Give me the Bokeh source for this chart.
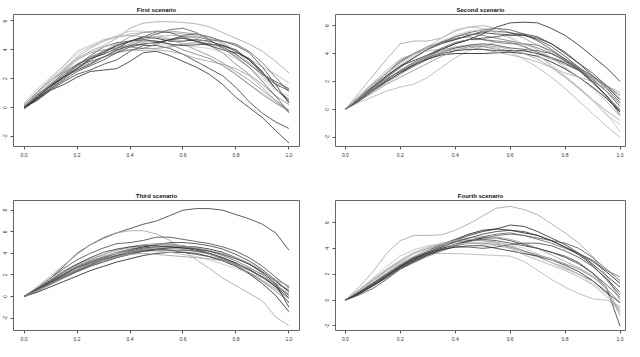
from bokeh.plotting import figure
from bokeh.layouts import column, row
from bokeh.models import Range1d, FixedTicker, PrintfTickFormatter, ColumnDataSource
from bokeh.embed import file_html
from bokeh.resources import INLINE

x_grid = [0.0, 0.05, 0.1, 0.15, 0.2, 0.25, 0.3, 0.35, 0.4, 0.45, 0.5,
          0.55, 0.6, 0.65, 0.7, 0.75, 0.8, 0.85, 0.9, 0.95, 1.0]
x_ticks = [0.0, 0.2, 0.4, 0.6, 0.8, 1.0]
y_ticks_a = [-2, 0, 2, 4, 6]
y_ticks_b = [-2, 0, 2, 4, 6, 8]
titles = ["First scenario", "Second scenario", "Third scenario", "Fourth scenario"]

first_curves = [
    [0.1, 0.8, 1.7, 2.6, 3.4, 3.9, 4.3, 4.8, 5.5, 5.85, 5.95, 5.95, 5.9, 5.8, 5.6, 5.2, 4.8, 4.4, 3.9, 3.2, 2.4],
    [0.2, 1.1, 2.0, 2.9, 3.9, 4.3, 4.7, 4.9, 5.1, 5.2, 5.3, 5.2, 5.1, 5.0, 4.8, 4.4, 3.9, 3.4, 2.8, 2.3, 1.7],
    [0.0, 0.5, 1.2, 1.6, 2.1, 2.5, 2.6, 2.7, 3.2, 3.8, 3.9, 3.6, 3.2, 2.8, 2.3, 1.6, 0.7, 0.0, -0.7, -1.6, -2.45],
    [-0.1, 0.6, 1.2, 1.8, 2.3, 2.6, 3.0, 3.3, 3.9, 4.3, 4.3, 4.1, 3.7, 3.2, 2.7, 2.2, 1.4, 0.4, -0.4, -1.0, -1.45],
    [0.0, 0.9, 1.5, 2.1, 2.9, 3.6, 4.2, 4.5, 4.6, 4.9, 5.25, 5.2, 4.9, 4.6, 4.4, 4.3, 3.9, 3.3, 2.4, 1.3, 0.4],
    [0.2, 1.1, 1.9, 2.5, 3.0, 3.5, 3.9, 4.2, 4.2, 4.1, 4.1, 4.2, 4.4, 4.5, 4.3, 3.8, 3.0, 2.3, 1.6, 0.8, 0.2],
    [0.0, 0.8, 1.5, 2.2, 3.0, 3.4, 3.7, 4.1, 4.6, 4.9, 4.8, 4.6, 4.6, 4.7, 4.6, 4.3, 4.0, 3.3, 2.4, 1.6, 1.2],
    [0.1, 0.7, 1.5, 2.5, 3.3, 3.8, 4.0, 4.1, 4.4, 4.7, 4.9, 4.7, 4.4, 4.0, 3.6, 3.1, 2.5, 1.9, 1.2, 0.5, -0.2],
    [0.0, 0.6, 1.3, 1.9, 2.5, 2.9, 3.3, 3.8, 4.2, 4.4, 4.5, 4.7, 5.0, 5.1, 4.9, 4.6, 4.3, 3.8, 2.8, 1.6, 0.3],
    [0.3, 1.3, 2.1, 2.9, 3.7, 4.2, 4.6, 5.0, 5.3, 5.3, 5.1, 4.8, 4.4, 4.0, 3.6, 3.1, 2.3, 1.6, 1.0, 0.4, -0.3],
    [0.0, 0.7, 1.6, 2.4, 2.9, 3.2, 3.5, 3.8, 4.0, 4.1, 4.4, 4.7, 4.9, 4.9, 4.7, 4.6, 4.4, 3.9, 3.1, 2.1, 1.1],
    [0.1, 0.9, 1.6, 2.2, 2.8, 3.4, 3.8, 4.0, 4.0, 3.95, 4.0, 3.9, 3.7, 3.4, 3.2, 3.0, 2.7, 2.2, 1.4, 0.5, -0.35],
    [0.0, 0.6, 1.4, 2.1, 2.6, 3.0, 3.5, 4.0, 4.3, 4.4, 4.5, 4.7, 4.8, 4.6, 4.3, 4.0, 3.8, 3.4, 2.5, 1.3, 0.5],
    [0.2, 1.0, 1.9, 2.7, 3.4, 3.9, 4.2, 4.4, 4.5, 4.5, 4.4, 4.3, 4.3, 4.2, 4.1, 3.8, 3.4, 2.8, 2.0, 1.2, 0.8],
    [0.0, 0.7, 1.3, 2.0, 2.7, 3.4, 3.9, 4.3, 4.6, 4.8, 5.1, 5.4, 5.5, 5.2, 4.7, 4.1, 3.5, 2.8, 1.8, 0.8, -0.35],
    [0.1, 0.9, 1.6, 2.2, 2.7, 3.1, 3.5, 3.9, 4.3, 4.6, 4.6, 4.4, 4.0, 3.7, 3.4, 2.9, 2.3, 1.6, 0.9, 0.3, -0.2],
    [0.0, 0.7, 1.5, 2.1, 2.7, 3.3, 3.8, 4.3, 4.6, 4.7, 4.6, 4.4, 4.3, 4.35, 4.4, 4.2, 3.7, 3.0, 2.3, 1.8, 1.3],
    [0.2, 1.0, 1.8, 2.7, 3.5, 4.1, 4.6, 4.9, 5.0, 4.9, 4.9, 5.0, 5.0, 4.8, 4.5, 4.1, 3.6, 3.0, 2.4, 1.7, 1.1],
    [0.1, 0.8, 1.6, 2.3, 3.0, 3.5, 3.9, 4.4, 4.9, 5.2, 5.3, 5.3, 5.2, 5.1, 4.9, 4.5, 3.9, 3.1, 2.2, 1.3, 0.6],
]
first_colors = ["#a0a0a0", "#b0b0b0", "#2a2a2a", "#3a3a3a", "#4a4a4a", "#808080", "#151515", "#8c8c8c", "#444444",
                "#bcbcbc", "#666666", "#9c9c9c", "#2a2a2a", "#c4c4c4", "#555555", "#7a7a7a", "#333333", "#aaaaaa",
                "#909090"]

second_curves = [
    [0, 0.7, 1.4, 2.1, 2.8, 3.3, 3.8, 4.3, 4.7, 5.0, 5.4, 5.9, 6.2, 6.25, 6.2, 5.8, 5.3, 4.6, 3.8, 3.0, 2.0],
    [0, 1.2, 2.4, 3.6, 4.7, 4.9, 4.9, 5.1, 5.6, 5.9, 6.0, 5.8, 5.5, 5.1, 4.6, 4.1, 3.6, 3.0, 2.3, 1.7, 1.2],
    [0, 0.5, 0.9, 1.3, 1.6, 1.8, 2.3, 3.0, 3.7, 4.2, 4.5, 4.4, 4.1, 3.6, 3.0, 2.3, 1.5, 0.6, -0.3, -1.2, -2.0],
    [0, 0.9, 1.8, 2.6, 3.4, 4.0, 4.5, 4.8, 5.0, 5.3, 5.6, 5.6, 5.5, 5.3, 5.0, 4.5, 3.8, 3.0, 2.2, 1.3, 0.2],
    [0, 0.8, 1.5, 2.2, 2.7, 3.2, 3.6, 3.9, 4.0, 4.0, 4.0, 4.05, 4.1, 4.0, 3.8, 3.4, 2.9, 2.3, 1.6, 0.8, -0.2],
    [0, 0.8, 1.7, 2.6, 3.5, 4.0, 4.4, 4.8, 5.1, 5.2, 5.0, 4.8, 4.7, 4.7, 4.6, 4.2, 3.6, 3.0, 2.4, 1.7, 1.0],
    [0, 0.9, 1.8, 2.6, 3.3, 3.9, 4.5, 5.1, 5.7, 5.9, 5.8, 5.6, 5.2, 4.6, 3.9, 3.1, 2.3, 1.5, 0.6, -0.4, -1.1],
    [0, 0.8, 1.6, 2.4, 3.1, 3.7, 4.3, 4.7, 5.0, 5.3, 5.5, 5.4, 5.3, 5.3, 5.1, 4.7, 4.1, 3.3, 2.4, 1.5, 0.5],
    [0, 0.6, 1.2, 1.8, 2.3, 2.8, 3.3, 3.8, 4.2, 4.5, 4.5, 4.3, 4.2, 4.2, 4.0, 3.6, 3.2, 2.8, 2.3, 1.6, 0.7],
    [0, 0.7, 1.5, 2.3, 3.0, 3.7, 4.3, 4.8, 5.2, 5.5, 5.7, 5.8, 5.7, 5.4, 4.9, 4.3, 3.6, 2.9, 2.0, 1.0, -0.4],
    [0, 1.0, 1.9, 2.8, 3.6, 4.0, 4.2, 4.3, 4.4, 4.5, 4.3, 4.1, 3.9, 3.7, 3.4, 3.0, 2.6, 2.3, 2.0, 1.5, 1.0],
    [0, 0.6, 1.3, 2.0, 2.6, 3.1, 3.6, 4.0, 4.2, 4.3, 4.3, 4.2, 4.2, 4.2, 4.0, 3.7, 3.3, 2.8, 2.0, 1.0, -0.2],
    [0, 0.7, 1.3, 1.9, 2.5, 3.1, 3.7, 4.2, 4.5, 4.6, 4.6, 4.5, 4.3, 4.0, 3.6, 3.0, 2.3, 1.5, 0.7, -0.1, -0.8],
    [0, 0.8, 1.6, 2.3, 3.0, 3.7, 4.3, 4.8, 5.2, 5.4, 5.3, 5.1, 4.9, 4.7, 4.4, 4.0, 3.5, 2.9, 2.1, 1.3, 0.4],
    [0, 0.7, 1.4, 2.0, 2.6, 3.2, 3.7, 4.1, 4.4, 4.6, 4.7, 4.6, 4.4, 4.3, 4.2, 4.0, 3.5, 2.8, 1.9, 1.0, -0.1],
    [0, 0.9, 1.7, 2.5, 3.2, 3.8, 4.4, 4.9, 5.3, 5.6, 5.7, 5.5, 5.1, 4.5, 3.9, 3.2, 2.4, 1.6, 0.7, -0.3, -1.6],
    [0, 0.8, 1.6, 2.4, 3.1, 3.5, 3.9, 4.3, 4.7, 5.0, 5.1, 5.2, 5.4, 5.4, 5.2, 4.7, 4.0, 3.3, 2.6, 1.7, 0.7],
    [0, 0.7, 1.4, 2.1, 2.8, 3.4, 3.9, 4.4, 4.8, 5.0, 5.0, 4.9, 4.8, 4.5, 4.1, 3.7, 3.4, 2.9, 2.0, 0.9, 0.0],
    [0, 0.8, 1.5, 2.2, 2.8, 3.3, 3.8, 4.1, 4.3, 4.4, 4.6, 4.8, 4.9, 4.7, 4.3, 3.7, 3.0, 2.3, 1.5, 0.6, -0.5],
]
second_colors = ["#222222", "#a0a0a0", "#b0b0b0", "#444444", "#151515", "#6a6a6a", "#bcbcbc", "#333333", "#8c8c8c",
                 "#555555", "#aaaaaa", "#2a2a2a", "#9c9c9c", "#777777", "#444444", "#c0c0c0", "#333333", "#666666",
                 "#a8a8a8"]

third_curves = [
    [0, 0.8, 1.7, 2.8, 4.0, 4.8, 5.4, 5.9, 6.3, 6.7, 7.0, 7.5, 8.0, 8.15, 8.15, 8.0, 7.6, 7.2, 6.7, 5.9, 4.3],
    [0, 0.9, 1.9, 2.9, 3.9, 4.8, 5.5, 5.9, 6.1, 6.1, 5.8, 5.2, 4.3, 3.4, 2.6, 1.7, 1.0, 0.3, -0.4, -1.9, -2.7],
    [0, 0.6, 1.2, 1.8, 2.4, 2.9, 3.4, 3.8, 4.2, 4.5, 4.6, 4.6, 4.5, 4.3, 4.0, 3.6, 3.1, 2.5, 1.8, 0.9, -0.1],
    [0, 0.8, 1.7, 2.6, 3.4, 4.0, 4.5, 4.9, 5.0, 5.2, 5.5, 5.5, 5.3, 5.1, 4.9, 4.6, 4.2, 3.6, 2.8, 1.8, 0.8],
    [0, 0.7, 1.4, 2.0, 2.6, 3.1, 3.5, 3.9, 4.2, 4.4, 4.5, 4.5, 4.4, 4.2, 3.9, 3.5, 3.0, 2.4, 1.8, 1.2, 0.6],
    [0, 0.4, 0.9, 1.4, 1.9, 2.4, 2.8, 3.2, 3.5, 3.8, 4.0, 4.1, 4.1, 4.0, 3.7, 3.3, 2.8, 2.1, 1.2, 0.1, -1.4],
    [0, 0.7, 1.4, 2.1, 2.8, 3.3, 3.7, 4.1, 4.4, 4.6, 4.8, 4.8, 4.7, 4.5, 4.2, 3.8, 3.3, 2.7, 2.0, 1.1, 0.2],
    [0, 0.6, 1.3, 2.0, 2.7, 3.2, 3.6, 4.0, 4.3, 4.6, 4.8, 5.0, 5.0, 4.9, 4.7, 4.4, 3.9, 3.3, 2.5, 1.5, 0.4],
    [0, 0.9, 1.7, 2.4, 3.0, 3.5, 3.8, 4.0, 4.1, 4.2, 4.2, 4.1, 3.9, 3.7, 3.4, 3.0, 2.6, 2.2, 1.7, 1.2, 0.7],
    [0, 0.7, 1.4, 2.1, 2.7, 3.1, 3.5, 3.8, 4.1, 4.3, 4.4, 4.3, 4.1, 3.9, 3.7, 3.4, 3.0, 2.5, 1.8, 0.9, -0.6],
    [0, 0.8, 1.5, 2.2, 2.9, 3.4, 3.9, 4.3, 4.6, 4.8, 4.9, 4.9, 4.7, 4.4, 4.0, 3.5, 2.9, 2.2, 1.5, 0.7, -0.2],
    [0, 0.6, 1.2, 1.8, 2.3, 2.8, 3.2, 3.6, 3.9, 4.2, 4.4, 4.5, 4.6, 4.6, 4.4, 4.1, 3.6, 3.0, 2.2, 1.2, -1.0],
    [0, 0.8, 1.6, 2.4, 3.0, 3.5, 3.9, 4.3, 4.5, 4.7, 4.8, 4.8, 4.7, 4.5, 4.3, 4.0, 3.6, 3.1, 2.4, 1.6, 0.9],
    [0, 0.7, 1.3, 1.9, 2.5, 3.0, 3.4, 3.7, 4.0, 4.2, 4.3, 4.3, 4.3, 4.2, 4.0, 3.6, 3.1, 2.5, 1.8, 1.0, 0.1],
    [0, 0.5, 1.1, 1.7, 2.3, 2.8, 3.3, 3.7, 4.1, 4.4, 4.6, 4.7, 4.6, 4.4, 4.0, 3.5, 2.9, 2.2, 1.4, 0.5, -0.5],
    [0, 0.7, 1.5, 2.3, 3.0, 3.6, 4.1, 4.4, 4.6, 4.7, 4.7, 4.6, 4.5, 4.4, 4.2, 3.9, 3.5, 3.0, 2.3, 1.4, 0.5],
    [0, 0.6, 1.2, 1.8, 2.5, 3.0, 3.4, 3.7, 3.9, 4.0, 3.9, 3.8, 3.7, 3.6, 3.5, 3.3, 3.0, 2.6, 2.1, 1.5, 1.0],
]
third_colors = ["#333333", "#a0a0a0", "#222222", "#444444", "#9c9c9c", "#151515", "#666666", "#333333", "#bcbcbc",
                "#555555", "#8c8c8c", "#2a2a2a", "#aaaaaa", "#444444", "#777777", "#333333", "#9c9c9c"]

fourth_curves = [
    [0, 1.0, 2.2, 3.6, 4.6, 5.0, 5.0, 5.05, 5.4, 5.9, 6.5, 7.1, 7.25, 7.0, 6.6, 5.9, 5.2, 4.4, 3.4, 1.9, 0.0],
    [0, 0.8, 1.6, 2.3, 2.9, 3.3, 3.6, 3.6, 3.6, 3.55, 3.5, 3.45, 3.4, 3.0, 2.3, 1.6, 1.0, 0.5, 0.1, 0.0, -0.5],
    [0, 0.5, 1.1, 1.8, 2.6, 3.2, 3.7, 4.2, 4.6, 5.0, 5.3, 5.5, 5.8, 5.7, 5.3, 4.8, 4.3, 3.6, 2.8, 1.9, 1.0],
    [0, 0.6, 1.3, 2.0, 2.7, 3.3, 3.8, 4.3, 4.7, 5.1, 5.4, 5.5, 5.4, 5.2, 5.0, 4.6, 4.1, 3.6, 3.0, 2.2, 1.3],
    [0, 0.5, 1.1, 1.7, 2.4, 2.9, 3.4, 3.8, 4.2, 4.5, 4.8, 5.0, 5.1, 5.0, 4.8, 4.6, 4.4, 4.0, 3.3, 2.4, 1.5],
    [0, 0.7, 1.5, 2.3, 3.0, 3.6, 4.0, 4.3, 4.5, 4.6, 4.6, 4.5, 4.2, 3.8, 3.4, 2.9, 2.5, 2.0, 1.5, 0.7, -0.8],
    [0, 0.6, 1.2, 1.9, 2.6, 3.1, 3.6, 4.0, 4.3, 4.6, 4.8, 4.8, 4.6, 4.3, 4.0, 3.7, 3.3, 2.8, 2.1, 1.0, -2.0],
    [0, 0.8, 1.7, 2.6, 3.4, 3.9, 4.2, 4.3, 4.4, 4.4, 4.3, 4.2, 4.0, 3.7, 3.3, 2.9, 2.4, 2.0, 1.5, 0.6, -1.0],
    [0, 0.4, 0.9, 1.6, 2.4, 3.0, 3.5, 3.9, 4.1, 4.1, 4.0, 4.1, 4.3, 4.4, 4.4, 4.2, 3.8, 3.3, 2.6, 1.7, 0.6],
    [0, 0.6, 1.3, 2.0, 2.7, 3.2, 3.6, 3.9, 4.2, 4.4, 4.4, 4.3, 4.1, 3.8, 3.5, 3.2, 2.8, 2.4, 1.8, 0.9, -0.2],
    [0, 0.5, 1.1, 1.8, 2.5, 3.0, 3.5, 3.9, 4.1, 4.2, 4.2, 4.0, 3.8, 3.6, 3.4, 3.1, 2.7, 2.2, 1.5, 0.6, -0.2],
    [0, 0.7, 1.4, 2.1, 2.8, 3.4, 3.9, 4.3, 4.6, 4.8, 4.9, 4.9, 4.7, 4.4, 4.0, 3.5, 3.0, 2.5, 1.9, 1.0, -1.2],
    [0, 0.6, 1.3, 2.0, 2.7, 3.2, 3.6, 4.0, 4.3, 4.6, 4.9, 5.1, 5.2, 5.0, 4.7, 4.4, 4.0, 3.6, 3.1, 2.3, 1.8],
    [0, 0.8, 1.6, 2.4, 3.1, 3.7, 4.1, 4.4, 4.6, 4.7, 4.6, 4.4, 4.0, 3.5, 3.1, 2.7, 2.3, 1.8, 1.2, 0.3, -0.9],
    [0, 0.5, 1.1, 1.8, 2.5, 3.1, 3.6, 4.0, 4.3, 4.6, 4.7, 4.6, 4.4, 4.2, 4.0, 3.7, 3.4, 2.9, 2.1, 1.2, 0.2],
    [0, 0.7, 1.5, 2.2, 2.9, 3.4, 3.8, 4.1, 4.3, 4.4, 4.5, 4.4, 4.3, 4.0, 3.6, 3.1, 2.6, 2.0, 1.3, 0.5, -0.6],
    [0, 0.6, 1.2, 1.9, 2.6, 3.2, 3.7, 4.1, 4.5, 4.8, 5.1, 5.3, 5.4, 5.3, 5.0, 4.6, 4.1, 3.5, 2.7, 1.6, 0.4],
]
fourth_colors = ["#a0a0a0", "#b0b0b0", "#222222", "#151515", "#555555", "#8c8c8c", "#333333", "#bcbcbc", "#444444",
                 "#7a7a7a", "#2a2a2a", "#9c9c9c", "#666666", "#aaaaaa", "#444444", "#c4c4c4", "#333333"]


def make_panel(title, curves, colors, yr, xr, yticks, w, h, bl, br, bt, bb):
    p = figure(width=w, height=h, x_range=Range1d(*xr), y_range=Range1d(*yr),
               output_backend="svg", toolbar_location=None,
               min_border_left=bl, min_border_right=br, min_border_top=bt, min_border_bottom=bb)
    p.title.text = title
    p.title.align = "center"
    p.title.text_font = "Liberation Sans"
    p.title.text_font_size = "6px"
    p.title.text_font_style = "bold"
    p.title.text_color = "#111111"
    p.title.standoff = 3
    p.grid.visible = False
    p.outline_line_color = "#666666"
    p.outline_line_width = 1
    src = ColumnDataSource(dict(xs=[x_grid] * len(curves), ys=curves, c=colors))
    p.multi_line(xs="xs", ys="ys", line_color="c", line_width=0.8, source=src)
    p.xaxis.ticker = FixedTicker(ticks=x_ticks)
    p.xaxis.formatter = PrintfTickFormatter(format="%.1f")
    p.yaxis.ticker = FixedTicker(ticks=yticks)
    p.yaxis.formatter = PrintfTickFormatter(format="%d")
    p.yaxis.major_label_orientation = "vertical"
    for ax in (p.xaxis[0], p.yaxis[0]):
        ax.axis_line_color = None
        ax.major_tick_out = 3
        ax.major_tick_in = 0
        ax.major_tick_line_color = "#555555"
        ax.minor_tick_line_color = None
        ax.major_label_text_font = "Liberation Sans"
        ax.major_label_text_font_size = "5px"
        ax.major_label_text_color = "#333333"
        ax.major_label_standoff = 3
    return p


p1 = make_panel(titles[0], first_curves, first_colors, (-2.7, 6.45), (-0.04, 1.04), y_ticks_a,
                314, 172, 13, 15, 14, 26)
p2 = make_panel(titles[1], second_curves, second_colors, (-2.67, 6.8), (-0.036, 1.02), y_ticks_a,
                316, 172, 21, 5, 14, 24)
p3 = make_panel(titles[2], third_curves, third_colors, (-3.15, 8.9), (-0.04, 1.04), y_ticks_b,
                314, 175, 13, 15, 28, 17)
p4 = make_panel(titles[3], fourth_curves, fourth_colors, (-2.35, 7.7), (-0.036, 1.02), y_ticks_a,
                316, 175, 21, 5, 28, 17)

layout = column(row(p1, p2), row(p3, p4))
open("out.html", "w").write(file_html(layout, INLINE))
